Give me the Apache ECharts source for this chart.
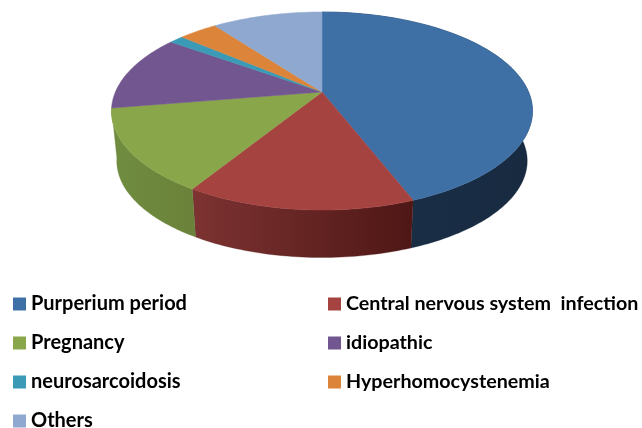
<!DOCTYPE html>
<html>
<head>
<meta charset="utf-8">
<style>
  html, body { margin: 0; padding: 0; background: #fff; }
  #chart { width: 642px; height: 428px; filter: blur(0.5px); }
</style>
<script src="https://cdn.jsdelivr.net/npm/echarts@6/dist/echarts.min.js"></script>
</head>
<body>
<div id="chart"></div>
<script>
// values, in percent
const categories = ['Purperium period', 'Central nervous system  infection', 'Pregnancy', 'idiopathic', 'neurosarcoidosis', 'Hyperhomocystenemia', 'Others'];
const values = [44.1, 14.7, 13.6, 12.5, 1.3, 3.6, 10.2];
const colors = ['#3e70a6', '#a54341', '#8aa64a', '#71568f', '#3b9ab5', '#db843a', '#8fa8d0'];
// wall shading left to right, only the front slices show a wall
const wallColors = [
  ['#1b3049', '#172a40'],
  ['#7d3332', '#4e1715'],
  ['#708d40', '#6a8239']
];
const legendLeft = [categories[0], categories[2], categories[4], categories[6]];
const legendRight = [categories[1], categories[3], categories[5]];

// perspective disc: centre of the pie sits above the middle of the ellipse
const cx = 322, cy = 92, A = 206.6, B = 95.4, K = 0.192;
const wallDrop = 50.4, wallScale = 0.975;
const total = values.reduce((a, b) => a + b, 0);

function rimPoint(theta, scale, drop) {
  const u = Math.sin(theta), v = Math.cos(theta), w = 1 + K * v;
  return [cx + scale * A * u / w, cy - scale * B * v / w + drop];
}

function rim(start, end, scale, drop) {
  const steps = Math.max(2, Math.ceil((end - start) / 0.02));
  const pts = [];
  for (let i = 0; i <= steps; i++) {
    pts.push(rimPoint(start + (end - start) * i / steps, scale, drop));
  }
  return pts;
}

function sliceRenderer(index) {
  return function () {
    const before = values.slice(0, index).reduce((a, b) => a + b, 0);
    const start = before / total * Math.PI * 2;
    const end = (before + values[index]) / total * Math.PI * 2;
    const topRim = rim(start, end, 1, 0);
    const children = [{
      type: 'polygon',
      z2: 2,
      shape: { points: [[cx, cy]].concat(topRim) },
      style: { fill: colors[index], stroke: colors[index], lineWidth: 0.5 }
    }];
    if (wallColors[index]) {
      const lowRim = rim(start, end, wallScale, wallDrop);
      const xs = topRim.map(p => p[0]);
      children.push({
        type: 'polygon',
        z2: 1,
        shape: { points: topRim.concat(lowRim.slice().reverse()) },
        style: {
          fill: {
            type: 'linear', global: true,
            x: Math.min.apply(null, xs), y: 0, x2: Math.max.apply(null, xs), y2: 0,
            colorStops: [
              { offset: 0, color: wallColors[index][0] },
              { offset: 1, color: wallColors[index][1] }
            ]
          },
          stroke: wallColors[index][1],
          lineWidth: 0.3
        }
      });
    }
    return { type: 'group', children: children };
  };
}

const chart = echarts.init(document.getElementById('chart'), null, { renderer: 'canvas' });

const legendBase = {
  orient: 'vertical',
  icon: 'rect',
  itemWidth: 13,
  itemHeight: 13,
  itemGap: 17,
  padding: 0,
  height: 150,
  top: 293,
  selectedMode: false,
  textStyle: {
    fontFamily: 'Lato',
    fontWeight: 'bold',
    fontSize: 20,
    color: '#000',
    lineHeight: 22
  }
};

chart.setOption({
  animation: false,
  backgroundColor: '#fff',
  legend: [
    Object.assign({}, legendBase, { left: 13, data: legendLeft }),
    Object.assign({}, legendBase, {
      left: 328,
      data: legendRight,
      textStyle: Object.assign({}, legendBase.textStyle, { fontSize: 19.7 })
    })
  ],
  series: categories.map((name, i) => ({
    type: 'custom',
    name: name,
    coordinateSystem: 'none',
    itemStyle: { color: colors[i] },
    data: [[values[i]]],
    renderItem: sliceRenderer(i)
  }))
});

window.addEventListener('resize', () => chart.resize());
</script>
</body>
</html>
